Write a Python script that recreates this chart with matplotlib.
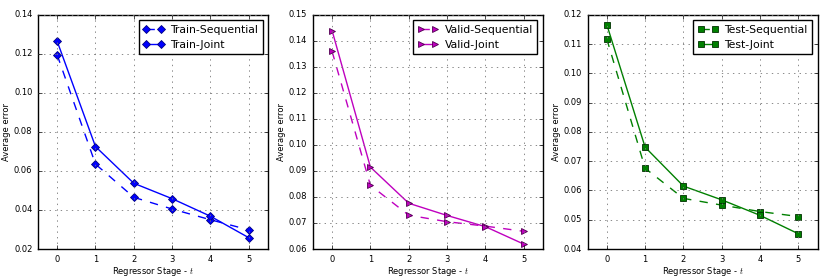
import matplotlib
matplotlib.use('Agg')
import matplotlib.pyplot as plt
import numpy as np

stages = [0, 1, 2, 3, 4, 5]

train_seq = [0.1195, 0.0635, 0.0465, 0.0405, 0.0350, 0.0298]
train_joint = [0.1265, 0.0725, 0.0537, 0.0458, 0.0368, 0.0258]
valid_seq = [0.1360, 0.0845, 0.0730, 0.0705, 0.0688, 0.0668]
valid_joint = [0.1440, 0.0915, 0.0776, 0.0729, 0.0686, 0.0619]
test_seq = [0.1118, 0.0676, 0.0573, 0.0550, 0.0528, 0.0511]
test_joint = [0.1167, 0.0748, 0.0615, 0.0568, 0.0515, 0.0452]

panels = [
    ('Train', train_seq, train_joint, 'b', '#000080', 'D', (0.02, 0.14, 0.02)),
    ('Valid', valid_seq, valid_joint, 'm', '#500050', '>', (0.06, 0.15, 0.01)),
    ('Test', test_seq, test_joint, 'g', '#003000', 's', (0.04, 0.12, 0.01)),
]

plt.style.use('classic')
fig = plt.figure(figsize=(8.3, 2.79), dpi=100)
lefts = [0.0458, 0.377, 0.708]

for left, (name, seq, joint, col, edge, mk, (lo, hi, step)) in zip(lefts, panels):
    ax = fig.add_axes([left, 0.1075, 0.277, 0.839])
    ax.plot(stages, seq, linestyle='--', color=col, marker=mk, markersize=4,
            markeredgecolor=edge, markeredgewidth=0.6, label=name + '-Sequential')
    ax.plot(stages, joint, linestyle='-', color=col, marker=mk, markersize=4,
            markeredgecolor=edge, markeredgewidth=0.6, label=name + '-Joint')
    ax.set_xlim(-0.5, 5.5)
    ax.set_ylim(lo, hi)
    ax.set_yticks(np.arange(lo, hi + step / 2, step))
    ax.set_xticks(stages)
    ax.grid(True, color='#777777', linestyle=':', linewidth=0.6)
    ax.tick_params(labelsize=6, length=3)
    ax.set_xlabel('Regressor Stage - $t$', fontsize=6, labelpad=1)
    ax.set_ylabel('Average error', fontsize=6, labelpad=2)
    ax.legend(loc='upper right', fontsize=7.8, numpoints=2, handlelength=1.9,
              borderpad=0.4, labelspacing=0.45, handletextpad=0.6,
              borderaxespad=0.5)

fig.savefig('out.png', dpi=100)
